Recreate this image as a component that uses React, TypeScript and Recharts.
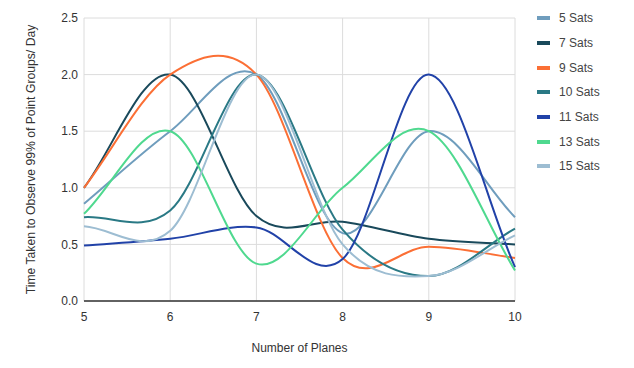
import React from 'react';
import { LineChart, Line, XAxis, YAxis, CartesianGrid } from 'recharts';

const planes = [5, 6, 7, 8, 9, 10];

const sats5 = [0.86, 1.5, 2.0, 0.6, 1.5, 0.74];
const sats7 = [1.0, 2.0, 0.75, 0.7, 0.55, 0.5];
const sats9 = [1.0, 2.0, 2.0, 0.38, 0.48, 0.38];
const sats10 = [0.74, 0.8, 2.0, 0.63, 0.22, 0.64];
const sats11 = [0.49, 0.55, 0.65, 0.37, 2.0, 0.3];
const sats13 = [0.77, 1.5, 0.33, 1.0, 1.5, 0.27];
const sats15 = [0.66, 0.62, 2.0, 0.5, 0.22, 0.58];

const yTicks = [0, 0.5, 1.0, 1.5, 2.0, 2.5];

const series = [
  { key: 's5', name: '5 Sats', values: sats5, color: '#6f9dbd' },
  { key: 's7', name: '7 Sats', values: sats7, color: '#19495b' },
  { key: 's9', name: '9 Sats', values: sats9, color: '#fb6f35' },
  { key: 's10', name: '10 Sats', values: sats10, color: '#2a7985' },
  { key: 's11', name: '11 Sats', values: sats11, color: '#2142a8' },
  { key: 's13', name: '13 Sats', values: sats13, color: '#4fd98f' },
  { key: 's15', name: '15 Sats', values: sats15, color: '#9dbdd2' },
];

const data = planes.map((p, i) => {
  const row: Record<string, number> = { planes: p };
  series.forEach((s) => {
    row[s.key] = s.values[i];
  });
  return row;
});

// catmull-rom style smoothing, like the spreadsheet's "smooth" lines
const smoothCurve = (context: any) => {
  let pts: [number, number][] = [];
  return {
    areaStart() {},
    areaEnd() {},
    lineStart() {
      pts = [];
    },
    point(x: number, y: number) {
      pts.push([+x, +y]);
    },
    lineEnd() {
      const n = pts.length;
      if (!n) return;
      context.moveTo(pts[0][0], pts[0][1]);
      const tan = (i: number): [number, number] => {
        const a = pts[Math.max(i - 1, 0)];
        const b = pts[Math.min(i + 1, n - 1)];
        const d = i === 0 || i === n - 1 ? 1 : 2;
        return [(b[0] - a[0]) / d, (b[1] - a[1]) / d];
      };
      for (let i = 0; i < n - 1; i++) {
        const p0 = pts[i];
        const p1 = pts[i + 1];
        const m0 = tan(i);
        const m1 = tan(i + 1);
        context.bezierCurveTo(
          p0[0] + m0[0] / 3,
          p0[1] + m0[1] / 3,
          p1[0] - m1[0] / 3,
          p1[1] - m1[1] / 3,
          p1[0],
          p1[1]
        );
      }
    },
  };
};

const font = 'Arial, "Liberation Sans", sans-serif';

const App: React.FC = () => {
  return (
    <div style={{ position: 'absolute', left: 0, top: 0, width: 634, height: 368, background: '#fff', fontFamily: font }}>
      <LineChart width={634} height={368} data={data} margin={{ top: 18, right: 119, bottom: 0, left: 0 }}>
        <CartesianGrid stroke="#dcdcdc" strokeWidth={1} />
        <XAxis
          dataKey="planes"
          type="number"
          domain={[5, 10]}
          ticks={planes}
          height={67}
          axisLine={{ stroke: '#333', strokeWidth: 1.5 }}
          tickLine={false}
          tickMargin={5}
          tick={{ fill: '#333', fontSize: 12, fontFamily: font }}
          label={{ value: 'Number of Planes', position: 'insideBottom', offset: 16, fill: '#333', fontSize: 12, fontFamily: font }}
        />
        <YAxis
          type="number"
          domain={[0, 2.5]}
          ticks={yTicks}
          width={84}
          axisLine={false}
          tickLine={false}
          tickMargin={0}
          tickFormatter={(v: number) => v.toFixed(1)}
          tick={{ fill: '#333', fontSize: 12, fontFamily: font }}
          label={{
            value: 'Time Taken to Observe 99% of Point Groups/ Day',
            angle: -90,
            position: 'insideLeft',
            offset: 31,
            style: { textAnchor: 'middle' },
            fill: '#333',
            fontSize: 12.2,
            fontFamily: font,
          }}
        />
        {series.map((s) => (
          <Line
            key={s.key}
            dataKey={s.key}
            name={s.name}
            type={smoothCurve as any}
            stroke={s.color}
            strokeWidth={2}
            dot={false}
            activeDot={false}
            isAnimationActive={false}
          />
        ))}
      </LineChart>
      <div style={{ position: 'absolute', left: 537, top: 6 }}>
        {series.map((s) => (
          <div key={s.key} style={{ display: 'flex', alignItems: 'center', height: 24.7, fontSize: 12, color: '#444' }}>
            <span style={{ display: 'inline-block', width: 13, height: 4, background: s.color, marginRight: 9 }} />
            <span>{s.name}</span>
          </div>
        ))}
      </div>
    </div>
  );
};

export default App;
